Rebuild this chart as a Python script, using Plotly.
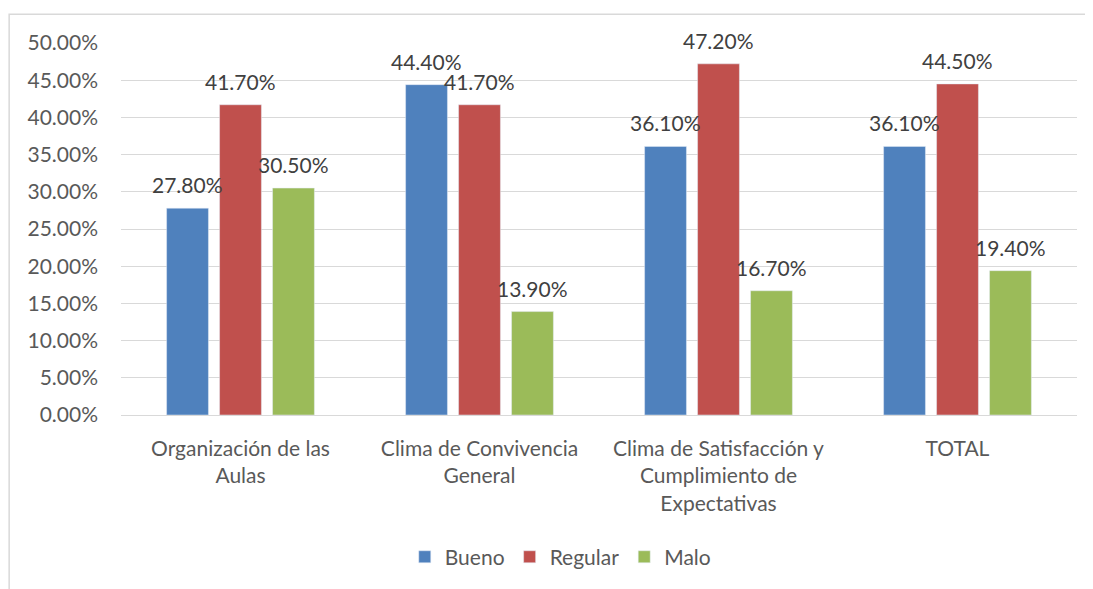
import plotly.graph_objects as go

categories = ["Organización de las<br>Aulas", "Clima de Convivencia<br>General",
              "Clima de Satisfacción y<br>Cumplimiento de<br>Expectativas", "TOTAL"]
bueno = [0.278, 0.444, 0.361, 0.361]
regular = [0.417, 0.417, 0.472, 0.445]
malo = [0.305, 0.139, 0.167, 0.194]
series = [("Bueno", bueno, "#4F81BD"), ("Regular", regular, "#C0504D"), ("Malo", malo, "#9BBB59")]
tick_vals = [i * 0.05 for i in range(11)]

FONT = "Lato, 'Open Sans', sans-serif"
SLOT_PX = 53  # horizontal distance between bars in a group

fig = go.Figure()
annotations = []
for k, (name, vals, color) in enumerate(series):
    fig.add_trace(go.Bar(x=categories, y=vals, name=name, marker_color=color))
    for c, v in zip(categories, vals):
        annotations.append(dict(
            x=c, y=v, xref="x", yref="y", text=f"{v*100:.2f}%", showarrow=False,
            xanchor="center", yanchor="bottom", xshift=(k - 1) * SLOT_PX, yshift=9,
            font=dict(size=21, color="#404040", family=FONT)))

fig.update_layout(
    width=1085, height=581,
    margin=dict(l=113, r=16, t=35, b=172),
    paper_bgcolor="white", plot_bgcolor="white",
    barmode="group", bargap=0.335, bargroupgap=0.21,
    font=dict(family=FONT, color="#595959", size=21),
    showlegend=True,
    legend=dict(orientation="h", x=0.46, xanchor="center", y=-0.382, yanchor="middle",
                font=dict(size=21, color="#595959"), traceorder="normal"),
    xaxis=dict(showgrid=False, tickfont=dict(size=21, color="#595959"), ticks="",
               showline=False, ticklabelstandoff=19),
    yaxis=dict(range=[0, 0.5], tickvals=tick_vals,
               ticktext=[f"{v*100:.2f}%" for v in tick_vals],
               showgrid=True, gridcolor="#D9D9D9", gridwidth=1,
               zeroline=True, zerolinecolor="#D9D9D9", zerolinewidth=1,
               tickfont=dict(size=21, color="#595959"), ticks="", ticklabelstandoff=22),
    annotations=annotations,
    shapes=[dict(type="rect", xref="paper", yref="paper",
                 x0=-0.117, x1=1.2, y0=-0.7, y1=1.0775,
                 line=dict(color="#D9D9D9", width=1.5), fillcolor="rgba(0,0,0,0)", layer="below")],
)

fig.write_html("out.html")
